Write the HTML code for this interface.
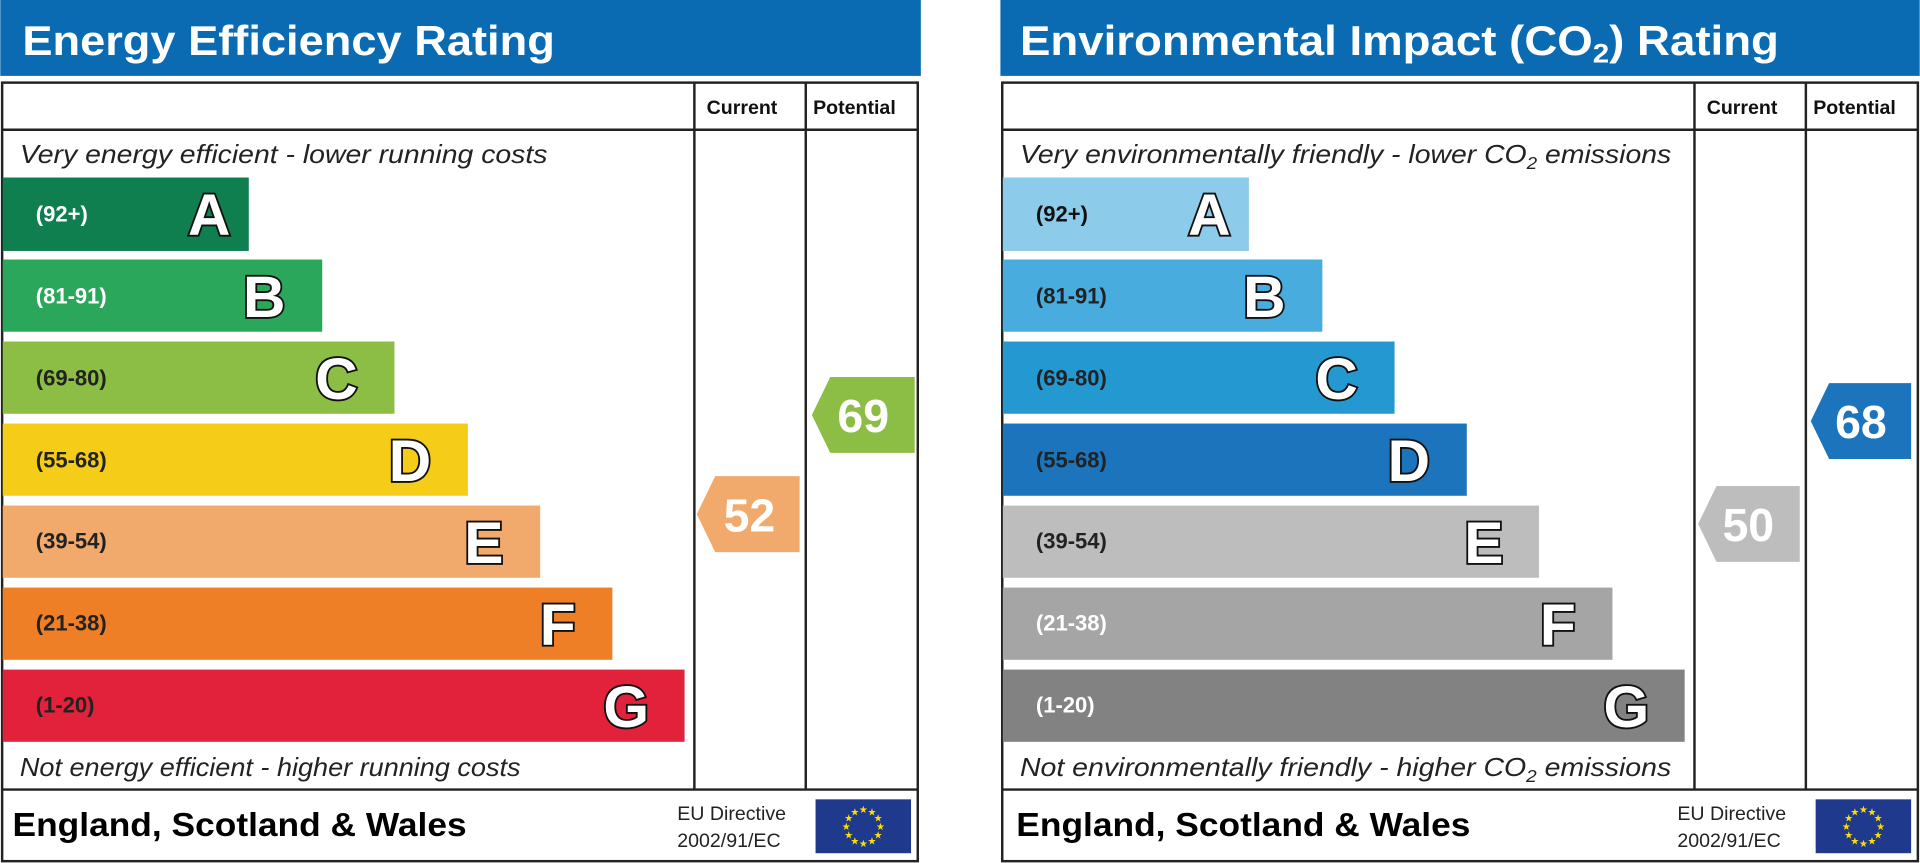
<!DOCTYPE html>
<html><head><meta charset="utf-8"><style>
html,body{margin:0;padding:0;background:#fff;width:1920px;height:863px;overflow:hidden}
svg{display:block}
text{font-family:"Liberation Sans",sans-serif}
.h{font-size:34px;font-weight:bold;fill:#fff}
.ch{font-size:16px;font-weight:bold;fill:#111}
.it{font-size:21px;font-style:italic;fill:#222}
.rg{font-size:18px;font-weight:bold}
.L{font-size:48px;font-weight:bold;fill:#fff;stroke:#111;stroke-width:3;paint-order:stroke;text-anchor:end}
.num{font-size:38px;font-weight:bold;fill:#fff;text-anchor:middle}
.ft{font-size:27px;font-weight:bold;fill:#000}
.eu{font-size:16px;fill:#222}
</style></head><body>
<svg width="1920" height="863" viewBox="0 0 1568 705" xmlns="http://www.w3.org/2000/svg">
<defs>
<g id="flag"><rect x="0" y="0" width="78" height="44" fill="#1f3a8c"/>
<g fill="#ffdd00" font-size="8" text-anchor="middle" font-family="DejaVu Sans">
<text x="39" y="11">★</text><text x="46" y="13">★</text><text x="51" y="18">★</text><text x="53" y="25">★</text><text x="51" y="32">★</text><text x="46" y="37">★</text><text x="39" y="39">★</text><text x="32" y="37">★</text><text x="27" y="32">★</text><text x="25" y="25">★</text><text x="27" y="18">★</text><text x="32" y="13">★</text></g></g>
</defs>
<!-- LEFT -->
<rect x="0" y="0" width="752" height="62" fill="#0a6bb3"/>
<text x="18" y="45" class="h" textLength="435" lengthAdjust="spacingAndGlyphs">Energy Efficiency Rating</text>
<rect x="1.5" y="67.5" width="748" height="636" fill="#fff" stroke="#222" stroke-width="2"/>
<line x1="1" y1="106" x2="750" y2="106" stroke="#222" stroke-width="2"/>
<line x1="567" y1="67" x2="567" y2="645" stroke="#222" stroke-width="2"/>
<line x1="658" y1="67" x2="658" y2="645" stroke="#222" stroke-width="2"/>
<line x1="1" y1="645" x2="750" y2="645" stroke="#222" stroke-width="2"/>
<text x="577" y="93" class="ch">Current</text><text x="664" y="93" class="ch">Potential</text>
<text x="16" y="133" class="it" textLength="431" lengthAdjust="spacingAndGlyphs">Very energy efficient - lower running costs</text>
<text x="16" y="634" class="it" textLength="409" lengthAdjust="spacingAndGlyphs">Not energy efficient - higher running costs</text>
<rect x="2" y="145" width="201" height="60" fill="#0f7f4f"/><text x="29" y="181" class="rg" fill="#fff">(92+)</text><text x="188" y="192" class="L">A</text>
<rect x="2" y="212" width="261" height="59" fill="#2aa75a"/><text x="29" y="248" class="rg" fill="#fff">(81-91)</text><text x="233" y="259" class="L">B</text>
<rect x="2" y="279" width="320" height="59" fill="#8cbd44"/><text x="29" y="315" class="rg" fill="#222">(69-80)</text><text x="292" y="326" class="L">C</text>
<rect x="2" y="346" width="380" height="59" fill="#f5cd18"/><text x="29" y="382" class="rg" fill="#222">(55-68)</text><text x="352" y="393" class="L">D</text>
<rect x="2" y="413" width="439" height="59" fill="#f2aa6c"/><text x="29" y="448" class="rg" fill="#222">(39-54)</text><text x="411" y="460" class="L">E</text>
<rect x="2" y="480" width="498" height="59" fill="#ee7f27"/><text x="29" y="515" class="rg" fill="#222">(21-38)</text><text x="470" y="527" class="L">F</text>
<rect x="2" y="547" width="557" height="59" fill="#e2213b"/><text x="29" y="582" class="rg" fill="#222">(1-20)</text><text x="530" y="594" class="L">G</text>
<polygon points="569,420 584,389 653,389 653,451 584,451" fill="#f2aa6c"/><text x="612" y="434" class="num">52</text>
<polygon points="663,339 678,308 747,308 747,370 678,370" fill="#8cbd44"/><text x="705" y="353" class="num">69</text>
<text x="10" y="683" class="ft" textLength="371" lengthAdjust="spacingAndGlyphs">England, Scotland &amp; Wales</text>
<text x="553" y="670" class="eu">EU Directive</text><text x="553" y="692" class="eu">2002/91/EC</text>
<use href="#flag" x="666" y="653"/>
<!-- RIGHT -->
<rect x="817" y="0" width="751" height="62" fill="#0a6bb3"/>
<text x="833" y="45" class="h" textLength="620" lengthAdjust="spacingAndGlyphs">Environmental Impact (CO<tspan font-size="22" dy="6">2</tspan><tspan dy="-6">) Rating</tspan></text>
<rect x="818.5" y="67.5" width="748" height="636" fill="#fff" stroke="#222" stroke-width="2"/>
<line x1="818" y1="106" x2="1567" y2="106" stroke="#222" stroke-width="2"/>
<line x1="1384" y1="67" x2="1384" y2="645" stroke="#222" stroke-width="2"/>
<line x1="1475" y1="67" x2="1475" y2="645" stroke="#222" stroke-width="2"/>
<line x1="818" y1="645" x2="1567" y2="645" stroke="#222" stroke-width="2"/>
<text x="1394" y="93" class="ch">Current</text><text x="1481" y="93" class="ch">Potential</text>
<text x="833" y="133" class="it" textLength="532" lengthAdjust="spacingAndGlyphs">Very environmentally friendly - lower CO<tspan font-size="14" dy="5">2</tspan><tspan dy="-5"> emissions</tspan></text>
<text x="833" y="634" class="it" textLength="532" lengthAdjust="spacingAndGlyphs">Not environmentally friendly - higher CO<tspan font-size="14" dy="5">2</tspan><tspan dy="-5"> emissions</tspan></text>
<rect x="819" y="145" width="201" height="60" fill="#8dcbea"/><text x="846" y="181" class="rg" fill="#111">(92+)</text><text x="1005" y="192" class="L">A</text>
<rect x="819" y="212" width="261" height="59" fill="#49acdf"/><text x="846" y="248" class="rg" fill="#222">(81-91)</text><text x="1050" y="259" class="L">B</text>
<rect x="819" y="279" width="320" height="59" fill="#2499d1"/><text x="846" y="315" class="rg" fill="#222">(69-80)</text><text x="1109" y="326" class="L">C</text>
<rect x="819" y="346" width="379" height="59" fill="#1b74bc"/><text x="846" y="382" class="rg" fill="#222">(55-68)</text><text x="1168" y="393" class="L">D</text>
<rect x="819" y="413" width="438" height="59" fill="#bdbdbd"/><text x="846" y="448" class="rg" fill="#222">(39-54)</text><text x="1228" y="460" class="L">E</text>
<rect x="819" y="480" width="498" height="59" fill="#a5a5a5"/><text x="846" y="515" class="rg" fill="#fff">(21-38)</text><text x="1287" y="527" class="L">F</text>
<rect x="819" y="547" width="557" height="59" fill="#828282"/><text x="846" y="582" class="rg" fill="#fff">(1-20)</text><text x="1347" y="594" class="L">G</text>
<polygon points="1387,428 1402,397 1470,397 1470,459 1402,459" fill="#bdbdbd"/><text x="1428" y="442" class="num">50</text>
<polygon points="1479,344 1494,313 1561,313 1561,375 1494,375" fill="#1b74bc"/><text x="1520" y="358" class="num">68</text>
<text x="830" y="683" class="ft" textLength="371" lengthAdjust="spacingAndGlyphs">England, Scotland &amp; Wales</text>
<text x="1370" y="670" class="eu">EU Directive</text><text x="1370" y="692" class="eu">2002/91/EC</text>
<use href="#flag" x="1483" y="653"/>
</svg>
</body></html>
